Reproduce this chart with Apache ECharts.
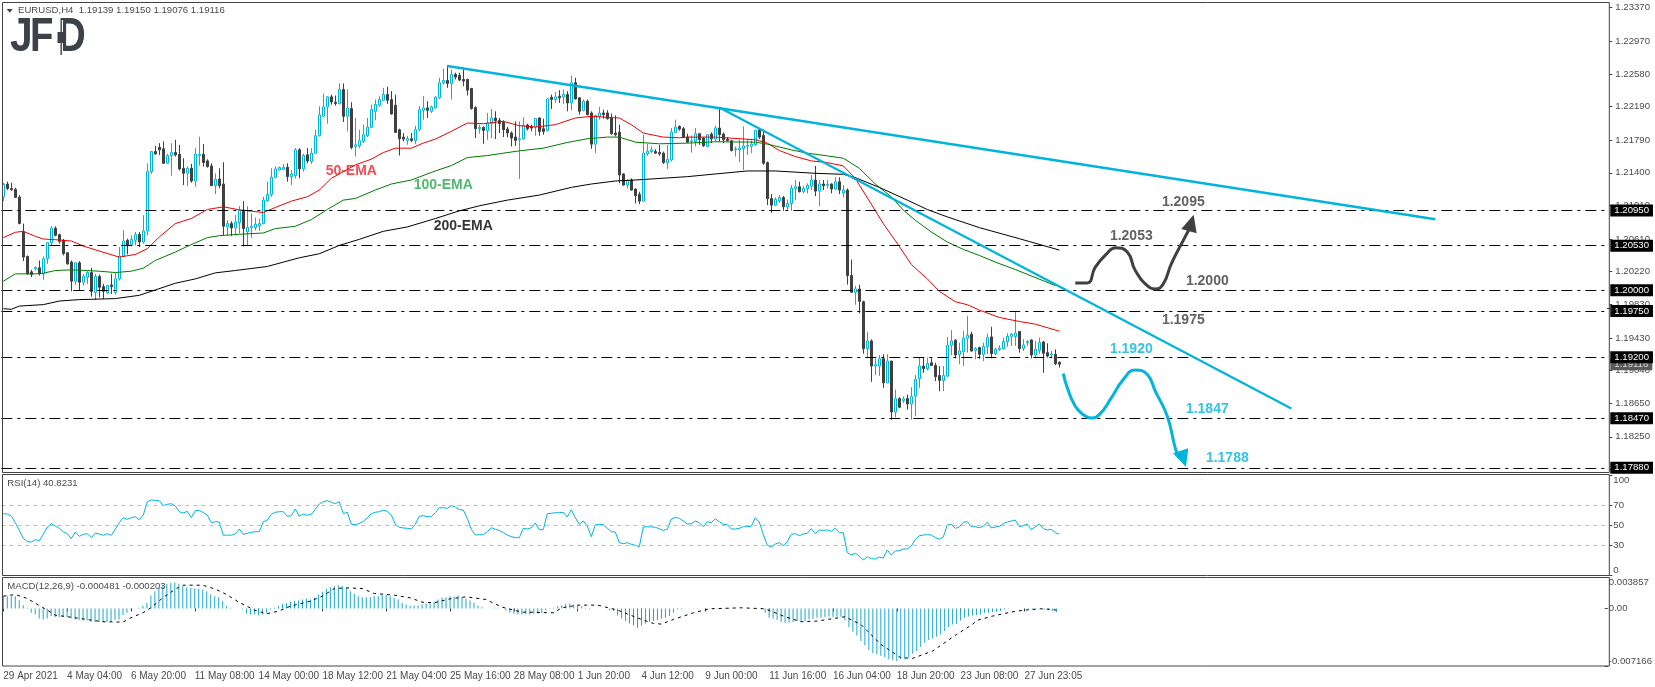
<!DOCTYPE html>
<html>
<head>
<meta charset="utf-8">
<title>EURUSD H4</title>
<style>
html,body{margin:0;padding:0;background:#fff;}
#chart{width:1655px;height:687px;}
</style>
<script src="https://cdn.jsdelivr.net/npm/echarts@6/dist/echarts.min.js"></script>
</head>
<body>
<div id="chart"></div>
<script>
// prices in 1e-5 units, rows are open, close, low, high
var candles = [
[121114,121262,121062,121282],[121266,121214,121194,121294],[121214,121198,121186,121282],[121202,121106,121102,121222],[121110,120794,120786,121134],
[120698,120394,120346,120794],[120402,120194,120186,120414],[120218,120186,120154,120242],[120254,120270,120234,120282],[120266,120194,120174,120354],
[120194,120374,120122,120402],[120374,120566,120314,120574],[120566,120738,120534,120762],[120738,120654,120642,120762],[120662,120582,120554,120674],
[120594,120434,120414,120610],[120446,120314,120302,120454],[120334,120106,119986,120354],[120106,120326,120066,120334],[120326,120094,120002,120346],
[120094,120162,120054,120194],[120154,120210,120074,120226],[120210,119986,119922,120266],[119974,120162,119882,120194],[120162,120034,119914,120186],
[120042,119986,119894,120074],[119966,120054,119954,120066],[120062,120042,119954,120194],[119974,120134,119946,120202],[120134,120406,120114,120514],
[120406,120586,120394,120714],[120594,120534,120426,120614],[120546,120606,120522,120654],[120594,120662,120534,120694],[120666,120574,120514,120694],
[120574,120706,120554,120894],[120706,121414,120654,121514],[121414,121654,121386,121654],[121654,121626,121614,121722],[121706,121674,121614,121754],
[121686,121514,121506,121774],[121514,121606,121506,121626],[121606,121642,121366,121754],[121642,121614,121594,121794],[121622,121446,121426,121734],
[121454,121394,121254,121574],[121394,121454,121242,121474],[121454,121302,121282,121506],[121302,121622,121234,121694],[121606,121622,121486,121830],
[121622,121522,121474,121742],[121542,121474,121462,121562],[121482,121246,121242,121514],[121246,121322,121146,121394],[121326,121246,121214,121454],
[121266,120762,120654,121526],[120754,120794,120646,120834],[120794,120742,120646,120822],[120742,120814,120654,120894],[120806,120954,120674,121002],
[120954,120734,120522,121062],[120694,120746,120534,121002],[120746,120762,120626,120914],[120746,120786,120714,120866],[120766,120794,120706,120854],
[120794,121074,120786,121114],[121066,121142,121054,121294],[121142,121346,121114,121454],[121346,121446,121334,121474],[121434,121462,121426,121474],
[121442,121466,121434,121506],[121466,121354,121294,121514],[121354,121386,121254,121434],[121366,121674,121334,121694],[121674,121446,121334,121694],
[121446,121606,121414,121626],[121614,121542,121514,121694],[121534,121634,121506,121694],[121634,121842,121626,121914],[121842,122090,121834,122194],
[122074,122186,122066,122346],[122186,122306,121986,122314],[122306,122246,122214,122334],[122242,122226,122202,122322],[122226,122394,122214,122466],
[122394,122074,122006,122466],[122074,122174,121894,122394],[122166,121702,121682,122242],[121714,121734,121594,122054],[121722,121782,121694,121914],
[121774,121854,121754,121974],[121842,121946,121826,122054],[121942,122154,121934,122214],[122134,122214,122026,122274],[122206,122274,122186,122314],
[122266,122334,122254,122414],[122334,122266,122222,122426],[122274,122102,122094,122374],[122206,121882,121874,122334],[121914,121806,121606,121926],
[121826,121802,121774,121874],[121786,121806,121734,121842],[121806,121786,121766,121874],[121786,121914,121742,121962],[121914,122154,121894,122194],
[122146,122174,122034,122314],[122174,122146,122054,122254],[122134,122186,122114,122202],[122174,122302,122162,122314],[122294,122474,122282,122534],
[122474,122502,122454,122642],[122502,122466,122414,122682],[122466,122574,122274,122634],[122574,122542,122514,122594],[122562,122506,122494,122594],
[122514,122494,122434,122642],[122514,122386,122322,122522],[122406,122166,122154,122414],[122178,121926,121814,122194],[121926,121942,121866,121974],
[121942,121906,121746,121954],[121902,121994,121794,122114],[121986,122054,121814,122162],[122054,122022,121802,122134],[122026,121986,121874,122054],
[122002,121914,121826,122026],[121922,121874,121822,121946],[121874,121814,121714,121894],[121826,121786,121722,122014],[121794,121806,121326,122014],
[121806,121966,121794,122062],[121970,121926,121906,121986],[121954,121934,121894,121974],[121946,122046,121842,122054],[122054,121894,121842,122062],
[121926,121894,121854,122046],[121906,122282,121894,122294],[122302,122274,122162,122334],[122274,122306,122234,122362],[122314,122294,122234,122386],
[122306,122334,122222,122394],[122334,122234,122134,122374],[122234,122474,122146,122562],[122474,122282,122274,122534],[122294,122134,122094,122306],
[122146,122254,122134,122274],[122254,122094,122086,122274],[122114,121742,121686,122134],[121742,122082,121634,122094],[122074,122114,122034,122186],
[122114,122094,122046,122154],[122114,122046,122034,122146],[122054,121866,121854,122106],[121874,121854,121834,122086],[121886,121374,121274,121974],
[121386,121254,121246,121394],[121254,121306,121214,121326],[121314,121194,121186,121334],[121206,121126,121034,121214],[121142,121062,121026,121174],
[121062,121634,121054,121854],[121626,121658,121602,121746],[121654,121674,121634,121714],[121654,121634,121626,121682],[121642,121626,121602,121734],
[121634,121522,121506,121654],[121522,121562,121446,121734],[121554,121886,121534,121934],[121882,121946,121874,122034],[121954,121922,121902,121966],
[121926,121826,121814,121946],[121826,121766,121754,121866],[121774,121782,121642,121846],[121774,121866,121714,121934],[121866,121794,121734,121874],
[121814,121722,121710,121822],[121714,121854,121710,121862],[121862,121806,121754,121882],[121802,121934,121774,121962],[121934,121854,121774,122186],
[121862,121794,121754,121882],[121802,121786,121774,121826],[121782,121666,121654,121794],[121674,121686,121594,121714],[121674,121694,121526,121794],
[121690,121722,121434,121954],[121718,121726,121614,121802],[121718,121742,121634,121786],[121734,121906,121722,121914],[121914,121826,121802,121934],
[121846,121514,121494,121914],[121522,121090,121014,121534],[121094,121014,120922,121146],[121014,121082,121002,121106],[121066,121106,121042,121134],
[121106,120994,120946,121122],[120994,121034,120942,121082],[121034,121214,120946,121254],[121210,121234,121074,121314],[121234,121174,121166,121294],
[121174,121214,121154,121242],[121210,121250,121154,121274],[121242,121314,121194,121374],[121314,121182,121122,121482],[121182,121266,121002,121314],
[121266,121246,121194,121314],[121250,121262,121214,121314],[121266,121206,121154,121274],[121206,121294,121194,121346],[121294,121194,121146,121346],
[121162,121194,121106,121254],[121194,120174,120066,121214],[120174,119974,119966,120366],[119974,120014,119826,120054],[120014,119866,119722,120066],
[119862,119302,119242,119874],[119302,119394,119186,119502],[119394,119094,118906,119414],[119094,119114,118986,119186],[119094,119182,118974,119226],
[119182,118894,118834,119234],[118894,119154,118890,119234],[119154,118546,118454,119154],[118546,118706,118482,118814],[118706,118602,118594,118722],
[118682,118702,118654,118734],[118706,118642,118574,118754],[118642,118730,118454,118842],[118734,118934,118494,118986],[118942,119094,118834,119194],
[119094,119062,119014,119194],[119062,119126,119042,119194],[119134,119102,119094,119194],[119102,118966,118914,119134],[118982,118922,118794,119094],
[118922,118982,118794,119094],[118974,119342,118962,119442],[119342,119394,119226,119522],[119402,119226,119186,119414],[119234,119274,119114,119374],
[119266,119426,119094,119514],[119426,119462,119254,119694],[119474,119274,119266,119502],[119282,119306,119174,119322],[119314,119234,119182,119326],
[119234,119326,119154,119374],[119326,119434,119234,119482],[119442,119242,119186,119562],[119242,119294,119226,119314],[119290,119306,119274,119342],
[119302,119386,119294,119434],[119386,119450,119326,119486],[119450,119474,119334,119486],[119446,119486,119334,119750],[119506,119302,119254,119514],
[119306,119346,119274,119414],[119374,119386,119334,119402],[119406,119226,119186,119414],[119226,119294,119186,119394],[119282,119374,119242,119434],
[119382,119246,119014,119394],[119254,119214,119194,119366],[119226,119238,119194,119274],[119234,119122,119106,119294],[119139,119116,119076,119150]
];

// moving averages as [bar, price in 1e-5]
var ema50 = [[0,120626],[3,120690],[5,120702],[8,120642],[10,120610],[13,120602],[17,120586],[20,120526],[24,120466],[29,120394],[33,120426],[36,120494],[39,120634],[43,120794],[47,120854],[51,120962],[55,120994],[59,120958],[62,120942],[65,120926],[68,120986],[72,121062],[76,121114],[79,121194],[82,121334],[85,121414],[88,121494],[92,121562],[95,121642],[98,121694],[102,121694],[105,121754],[108,121802],[112,121894],[116,121994],[120,121986],[125,122014],[129,121962],[133,121946],[138,121974],[143,122054],[147,122074],[151,122062],[154,122054],[157,121974],[160,121874],[165,121826],[169,121818],[171,121826],[178,121826],[188,121794],[191,121754],[194,121666],[198,121594],[202,121542],[206,121522],[210,121482],[213,121334],[214,121254],[217,121026],[220,120794],[224,120522],[227,120306],[231,120134],[234,119986],[238,119862],[241,119826],[244,119762],[249,119674],[254,119626],[258,119594],[264,119510]];
var ema100 = [[0,120106],[3,120194],[8,120194],[10,120202],[13,120234],[17,120242],[21,120234],[24,120226],[28,120210],[32,120226],[35,120262],[38,120354],[43,120454],[46,120522],[51,120626],[54,120650],[59,120666],[65,120682],[68,120734],[73,120762],[77,120842],[81,120962],[85,121074],[88,121094],[93,121194],[97,121266],[102,121314],[108,121422],[112,121486],[116,121582],[121,121606],[125,121634],[129,121662],[135,121694],[141,121762],[146,121806],[151,121826],[154,121826],[158,121766],[164,121746],[171,121754],[178,121770],[188,121766],[191,121742],[197,121674],[201,121634],[206,121602],[210,121574],[214,121454],[218,121266],[222,121114],[225,120954],[228,120834],[232,120694],[236,120574],[240,120486],[244,120414],[248,120334],[253,120246],[263,120054]];
var ema200 = [[0,119779],[2,119771],[4,119810],[10,119827],[14,119870],[19,119887],[28,119899],[34,119938],[38,120002],[43,120082],[48,120134],[53,120206],[58,120234],[66,120282],[70,120334],[74,120386],[79,120434],[84,120534],[89,120606],[95,120702],[101,120754],[108,120854],[114,120946],[119,121006],[126,121074],[134,121134],[142,121226],[147,121266],[153,121302],[158,121314],[171,121354],[178,121386],[186,121422],[193,121422],[203,121394],[210,121382],[213,121342],[219,121226],[226,121074],[231,120962],[236,120874],[244,120746],[254,120614],[264,120478]];

var trendUpper = [[111,122674],[358,120846]];
var trendLower = [[179,122180],[322,118588]];
var bullPath = [[268,120086],[271,120086],[273,120274],[276,120442],[278,120506],[281,120454],[283,120234],[286,120054],[288,120014],[290,120074],[292,120314],[295,120594],[297,120774]];
var bearPath = [[265,119006],[266,118834],[268,118614],[270,118514],[272,118474],[274,118514],[277,118714],[280,118934],[283,119046],[286,118994],[288,118794],[291,118494],[293,118114],[294,117994]];

var levels = [120950,120530,120000,119750,119200,118470,117880];
var lastPrice = 119116;
var priceTicks = [123370,122970,122580,122190,121790,121400,121010,120610,120220,119830,119430,119040,118650,118250,117860];

var notes = [
  ['50-EMA',87,121419,'#f0202c'],['100-EMA',110,121252,'#22a84a'],['200-EMA',115,120762,'#000000'],
  ['1.2095',295,121053,'#3a3a3a'],['1.2053',282,120643,'#3a3a3a'],['1.2000',301,120105,'#3a3a3a'],['1.1975',295,119636,'#3a3a3a'],
  ['1.1920',282,119293,'#00b4dc'],['1.1847',301,118576,'#00b4dc'],['1.1788',306,117991,'#00b4dc']
];

var rsi = [61.3,61.0,59.0,52.3,44.7,36.7,33.3,33.0,35.3,34.3,40.7,48.0,51.3,49.0,46.7,43.3,41.3,36.3,43.0,38.7,40.7,41.3,37.3,42.0,41.0,39.7,41.3,39.7,45.7,52.3,
57.3,55.7,57.3,58.3,55.3,60.0,73.3,75.0,74.7,74.3,69.3,70.7,71.3,69.0,63.3,62.0,63.7,57.3,64.3,64.7,62.3,60.0,52.3,53.3,53.0,39.7,40.0,39.7,41.3,46.0,
40.7,41.7,42.7,43.3,43.3,53.3,54.7,60.7,62.7,63.3,63.3,58.7,59.3,66.0,58.7,61.0,59.7,60.7,65.7,71.0,73.3,74.3,72.7,71.3,73.3,61.3,62.7,50.7,50.3,51.7,
53.7,57.3,61.3,62.7,63.3,64.7,63.7,60.0,50.7,47.7,47.0,46.7,46.0,50.7,58.7,59.3,58.3,58.3,62.3,67.3,67.3,66.7,69.3,68.0,65.3,65.0,56.7,45.7,40.0,40.3,
40.3,43.3,47.3,45.7,44.7,42.3,40.0,38.3,37.3,37.3,46.7,46.0,47.3,52.0,45.3,45.3,61.3,61.7,62.3,62.3,62.7,58.0,65.3,57.3,50.7,54.0,49.0,38.3,50.0,50.7,
50.3,46.7,43.3,43.0,32.3,31.3,32.3,30.7,29.7,28.3,48.0,48.3,48.0,47.7,46.3,44.7,45.7,56.0,57.7,56.7,54.0,51.0,51.3,54.0,52.3,48.3,53.3,52.3,56.3,53.3,
50.7,50.3,46.0,46.0,46.7,48.3,48.3,48.7,57.3,53.0,40.7,29.7,28.0,31.0,32.3,29.3,33.3,40.7,41.3,39.3,41.0,41.7,46.3,41.3,45.0,44.7,45.0,43.7,47.0,42.3,
42.3,22.3,20.0,21.7,19.0,15.0,18.3,16.3,16.0,18.0,17.0,25.0,20.0,24.0,24.3,26.0,26.0,29.0,35.3,39.3,40.0,40.3,40.0,37.3,36.0,38.0,50.0,50.7,46.7,48.0,
52.7,53.3,48.3,48.3,47.3,48.7,52.7,47.0,48.0,48.7,51.3,53.0,54.0,55.0,48.3,49.3,51.0,45.3,48.0,51.0,46.3,45.0,45.7,42.3,40.82];

// MACD values in 1e-6
var macdHist = [1532,1532,1532,1532,1035,414,83,-538,-745,-1242,-1366,-1242,-952,-1076,-1076,-1076,-1076,-1242,-1366,-1449,-1490,-1490,-1656,-1697,-1697,-1697,-1697,-1656,-1449,-1366,
-828,-538,-124,0,83,331,704,1615,2153,2567,2898,3064,3146,3229,3064,2774,2650,2567,2484,2443,2360,2153,1739,1532,1408,911,331,83,0,0,
-124,-662,-745,-745,-869,-745,-538,-124,83,290,580,662,828,911,994,1118,1201,1118,1325,1739,2070,2443,2650,2774,2898,2774,2567,2153,1822,1532,
1408,1408,1408,1532,1532,1656,1739,1532,1325,1118,704,497,331,331,373,497,621,621,828,1118,1325,1408,1532,1490,1615,1408,1201,994,704,331,
166,0,0,83,83,0,-248,-538,-662,-745,-745,-745,-745,-662,-621,-580,-207,-41,83,290,414,580,621,497,414,290,83,-124,0,0,
0,0,-207,-331,-869,-1242,-1573,-1863,-2111,-2443,-2111,-1863,-1656,-1573,-1449,-1284,-1159,-952,-538,-124,-83,-41,-41,-20,-20,0,41,41,41,41,
41,41,41,0,0,0,0,0,0,0,0,-538,-1159,-1284,-1449,-1697,-1780,-1780,-1697,-1573,-1573,-1573,-1366,-1284,-1159,-1159,-1076,-994,-1035,-1035,
-1035,-1490,-2318,-2898,-3353,-4057,-4595,-5216,-5589,-5713,-5879,-6044,-6334,-6458,-6541,-6334,-6334,-6127,-5630,-5299,-4802,-4264,-3933,-3726,-3519,-3229,-2815,-2318,-1987,-1904,
-1490,-1159,-994,-869,-828,-745,-538,-538,-455,-414,-331,-124,-41,0,0,0,-20,-124,-124,-41,-41,-124,-166,-331,-481];
var macdSignal = [[0,1532],[3,1739],[6,1242],[8,662],[11,-207],[13,-828],[18,-1159],[22,-1449],[25,-1656],[30,-1697],[32,-1159],[35,-538],[37,83],[40,1325],[43,2360],[45,2898],[50,2898],[53,2443],[56,1739],[59,787],[63,-207],[66,-662],[69,-331],[72,290],[77,911],[80,1532],[83,2484],[86,2567],[90,2484],[93,1863],[98,1656],[102,1325],[105,787],[108,704],[112,1201],[116,1449],[121,1118],[125,166],[130,-455],[138,-538],[140,83],[144,414],[149,414],[154,-207],[160,-1366],[163,-1863],[165,-1946],[168,-1366],[173,-538],[177,-41],[185,83],[191,-41],[196,-1035],[200,-1656],[204,-1573],[211,-1035],[215,-1987],[220,-4471],[225,-6127],[228,-6210],[233,-5299],[239,-3229],[243,-1987],[244,-1490],[248,-952],[251,-621],[254,-331],[257,-166],[260,-41],[263,-124],[264,-203]];

var xTickLabels = ['29 Apr 2021','4 May 04:00','6 May 20:00','11 May 08:00','14 May 00:00','18 May 12:00','21 May 04:00','25 May 16:00','28 May 08:00','1 Jun 20:00','4 Jun 12:00','9 Jun 00:00','11 Jun 16:00','16 Jun 04:00','18 Jun 20:00','23 Jun 08:00','27 Jun 23:05'];

var barSlots = 402;
var categories = [];
for (var s = 0; s < barSlots; s++) {
    categories.push(s % 16 == 0 && xTickLabels[s / 16] ? xTickLabels[s / 16] : '');
}
function px(list) {
    return list.map(function (p) { return [p[0], p[1] / 100000]; });
}
function isTick(index) {
    return categories[index] !== '';
}

var CYAN = '#00b4dc', DARK = '#404040', TXT = '#4a4a4a';
var labelFont = '"Liberation Sans", Arial, sans-serif';

// last price goes first so the black level badges stay on top of it
var levelLines = [{
    yAxis: lastPrice / 100000,
    lineStyle: { color: 'rgba(0,0,0,0)' },
    label: { backgroundColor: '#5a5a5a', color: '#d8d8d8' }
}].concat(levels.map(function (v) { return { yAxis: v / 100000 }; }));

function plainLine(name, data, color, width, extra) {
    var o = {
        name: name, type: 'line', xAxisIndex: 0, yAxisIndex: 0,
        data: px(data), showSymbol: false, symbol: 'none', silent: true,
        lineStyle: { color: color, width: width }
    };
    for (var k in extra) o[k] = extra[k];
    return o;
}
function arrowHead(color, coord, rotate) {
    return {
        silent: true,
        data: [{ coord: [coord[0], coord[1] / 100000], symbol: 'triangle', symbolSize: [16, 17], symbolRotate: rotate,
            itemStyle: { color: color }, label: { show: false } }]
    };
}

var hiddenAxis = { show: false };
var option = {
    animation: false,
    backgroundColor: '#ffffff',
    textStyle: { fontFamily: labelFont },
    grid: [
        { left: 1.3, width: 1608, top: 2.5, height: 470 },
        { left: 1.3, width: 1608, top: 475, height: 100 },
        { left: 1.3, width: 1608, top: 577.5, height: 88.5 }
    ],
    xAxis: [
        { type: 'category', gridIndex: 0, data: categories, axisLine: hiddenAxis, axisTick: hiddenAxis, axisLabel: hiddenAxis, splitLine: hiddenAxis },
        { type: 'category', gridIndex: 1, data: categories, axisLine: hiddenAxis, axisTick: hiddenAxis, axisLabel: hiddenAxis, splitLine: hiddenAxis },
        {
            type: 'category', gridIndex: 2, data: categories,
            axisLine: hiddenAxis, splitLine: hiddenAxis,
            axisTick: { show: true, alignWithLabel: true, interval: isTick, length: 3, lineStyle: { color: DARK } },
            axisLabel: { show: true, interval: isTick, align: 'left', margin: 5, fontSize: 10, color: TXT, hideOverlap: false }
        }
    ],
    yAxis: [
        {
            type: 'value', gridIndex: 0, position: 'right', min: 1.17824, max: 1.23432, scale: true,
            axisLine: hiddenAxis, splitLine: hiddenAxis,
            axisTick: { show: true, length: 3, lineStyle: { color: DARK }, customValues: priceTicks.map(function (v) { return v / 100000; }) },
            axisLabel: { show: true, margin: 6, fontSize: 9.6, color: TXT, customValues: priceTicks.map(function (v) { return v / 100000; }),
                formatter: function (v) { return v.toFixed(5); } }
        },
        {
            type: 'value', gridIndex: 1, position: 'right', min: 0, max: 100,
            axisLine: hiddenAxis, splitLine: hiddenAxis,
            axisTick: { show: true, length: 3, lineStyle: { color: DARK }, customValues: [0, 30, 50, 70, 100] },
            axisLabel: { show: true, margin: 4, fontSize: 9.6, color: TXT, customValues: [0, 30, 50, 70, 100],
                verticalAlignMinLabel: 'bottom', verticalAlignMaxLabel: 'top' }
        },
        {
            type: 'value', gridIndex: 2, position: 'right', min: -0.007166, max: 0.003857,
            axisLine: hiddenAxis, splitLine: hiddenAxis,
            axisTick: { show: true, length: 3, lineStyle: { color: DARK }, customValues: [-0.007166, 0, 0.003857] },
            axisLabel: { show: true, margin: 4, fontSize: 9.6, color: TXT, customValues: [-0.007166, 0, 0.003857],
                verticalAlignMinLabel: 'bottom', verticalAlignMaxLabel: 'top',
                formatter: function (v) { return v === 0 ? '0.00' : v.toFixed(6); } }
        }
    ],
    series: [
        {
            name: 'EURUSD', type: 'candlestick', xAxisIndex: 0, yAxisIndex: 0, barWidth: 3, silent: true,
            data: candles.map(function (r) { return r.map(function (v) { return v / 100000; }); }),
            itemStyle: { color: '#ffffff', color0: DARK, borderColor: CYAN, borderColor0: DARK, borderWidth: 1 },
            markLine: {
                silent: true, symbol: 'none', animation: false, precision: 5,
                lineStyle: { color: '#000000', width: 1.2, type: [11, 5, 3, 5] },
                label: { show: true, position: 'end', distance: 1, formatter: function (p) { return p.value.toFixed(5); },
                    backgroundColor: '#000000', color: '#ffffff', fontSize: 9.6, padding: [1, 4, 1, 4] },
                data: levelLines
            }
        },
        plainLine('EMA50', ema50, '#f00000', 1),
        plainLine('EMA100', ema100, '#007a00', 1),
        plainLine('EMA200', ema200, '#000000', 1),
        plainLine('Trend upper', trendUpper, CYAN, 2.4, { z: 5 }),
        plainLine('Trend lower', trendLower, CYAN, 2.2, { z: 5 }),
        plainLine('Bull path', bullPath, DARK, 3, { smooth: 0.5, z: 6, markPoint: arrowHead(DARK, [297, 120802], -16) }),
        plainLine('Bear path', bearPath, CYAN, 3, { smooth: 0.5, z: 6, markPoint: arrowHead(CYAN, [295, 117986], -162) }),
        {
            name: 'Notes', type: 'scatter', xAxisIndex: 0, yAxisIndex: 0, symbolSize: 0, silent: true, z: 7,
            data: notes.map(function (n) {
                return {
                    value: [n[1], n[2] / 100000],
                    label: { show: true, position: 'inside', formatter: n[0], color: n[3], fontSize: 14, fontWeight: 'bold' }
                };
            })
        },
        {
            name: 'RSI', type: 'line', xAxisIndex: 1, yAxisIndex: 1, data: rsi, showSymbol: false, symbol: 'none', silent: true,
            lineStyle: { color: CYAN, width: 1 },
            markLine: {
                silent: true, symbol: 'none', animation: false, label: { show: false },
                lineStyle: { color: '#bdbdbd', width: 1, type: [4, 4] },
                data: [{ yAxis: 30 }, { yAxis: 50 }, { yAxis: 70 }]
            }
        },
        {
            name: 'MACD', type: 'bar', xAxisIndex: 2, yAxisIndex: 2, barWidth: 1, silent: true,
            data: macdHist.map(function (v) { return v / 1000000; }),
            itemStyle: { color: '#1ca6cb' }
        },
        {
            name: 'Signal', type: 'line', xAxisIndex: 2, yAxisIndex: 2, showSymbol: false, symbol: 'none', silent: true,
            data: macdSignal.map(function (p) { return [p[0], p[1] / 1000000]; }),
            lineStyle: { color: '#000000', width: 1, type: [3, 4] }
        }
    ],
    graphic: [
        { type: 'rect', z: 20, silent: true, shape: { x: 2.5, y: 2.5, width: 1606.8, height: 470 }, style: { fill: 'none', stroke: '#444444', lineWidth: 1 } },
        { type: 'rect', z: 20, silent: true, shape: { x: 2.5, y: 474.5, width: 1606.8, height: 101 }, style: { fill: 'none', stroke: '#444444', lineWidth: 1 } },
        { type: 'rect', z: 20, silent: true, shape: { x: 2.5, y: 577.5, width: 1606.8, height: 88.5 }, style: { fill: 'none', stroke: '#444444', lineWidth: 1 } },
        { type: 'polygon', z: 20, silent: true, shape: { points: [[6.7, 9], [12.7, 9], [9.7, 12.7]] }, style: { fill: '#444444' } },
        { type: 'polyline', z: 20, silent: true, shape: { points: [[1607, 308.5], [1612, 308.5], [1612, 312]] }, style: { fill: 'none', stroke: '#333333', lineWidth: 1 } },
        { type: 'text', z: 20, silent: true, x: 18, y: 10.7, style: { text: 'EURUSD,H4  1.19139 1.19150 1.19076 1.19116', fill: TXT, font: '9.6px ' + labelFont, verticalAlign: 'middle' } },
        { type: 'text', z: 20, silent: true, x: 7.3, y: 483.7, style: { text: 'RSI(14) 40.8231', fill: TXT, font: '9.6px ' + labelFont, verticalAlign: 'middle' } },
        { type: 'text', z: 20, silent: true, x: 7.3, y: 586.3, style: { text: 'MACD(12,26,9) -0.000481 -0.000203', fill: TXT, font: '9.6px ' + labelFont, verticalAlign: 'middle' } },
        // JFD logo
        { type: 'text', z: 20, silent: true, x: 10, y: 38, scaleX: 0.85, style: { text: 'J', fill: '#3d4148', font: 'bold 48px ' + labelFont, verticalAlign: 'middle' } },
        { type: 'text', z: 20, silent: true, x: 30, y: 38, scaleX: 0.8, style: { text: 'F', fill: '#3d4148', font: 'bold 48px ' + labelFont, verticalAlign: 'middle' } },
        { type: 'text', z: 20, silent: true, x: 58, y: 38, scaleX: 0.8, style: { text: 'D', fill: '#3d4148', font: 'bold 48px ' + labelFont, verticalAlign: 'middle' } },
        { type: 'rect', z: 21, silent: true, shape: { x: 60, y: 20, width: 3, height: 35 }, style: { fill: '#ffffff' } },
        { type: 'rect', z: 22, silent: true, shape: { x: 60.5, y: 20, width: 1.4, height: 35 }, style: { fill: '#3d4148' } },
        { type: 'rect', z: 22, silent: true, shape: { x: 57.5, y: 32, width: 6, height: 11 }, style: { fill: '#3d4148' } }
    ]
};

var myChart = echarts.init(document.getElementById('chart'), null, { renderer: 'canvas' });
myChart.setOption(option);
</script>
</body>
</html>
